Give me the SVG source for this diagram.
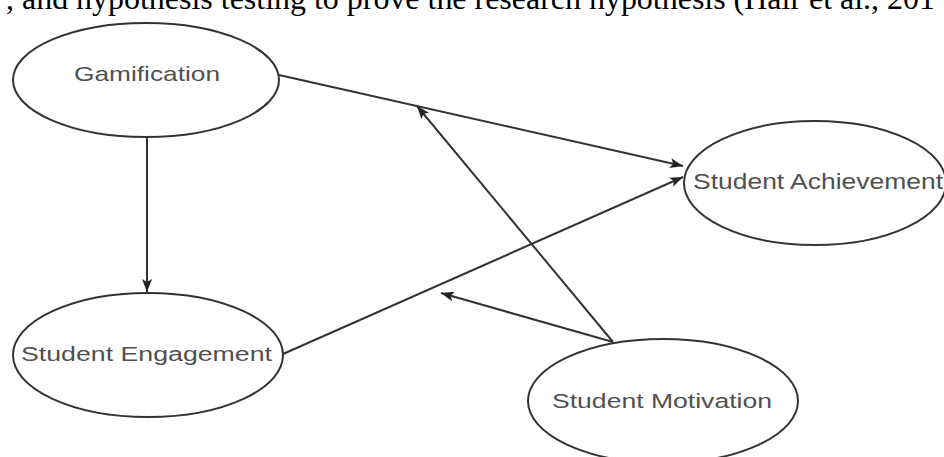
<svg xmlns="http://www.w3.org/2000/svg" width="944" height="457" viewBox="0 0 944 457">
<style>
.node ellipse{fill:#ffffff;stroke:#333333;stroke-width:2}
.node text{font-family:"Liberation Sans",Arial,sans-serif;fill:#505050;font-weight:bold;stroke:none}
.conn line{stroke:#333333;stroke-width:2;fill:none}
.caption{font-family:"Liberation Serif","Times New Roman",serif;font-size:32px;fill:#000000}
</style>
<defs>
<marker id="arrow" markerUnits="userSpaceOnUse" markerWidth="14" markerHeight="10" refX="13" refY="5" orient="auto">
<path d="M0,0 L13,5 L0,10 L3,5 z" fill="#222222"/>
</marker>
</defs>
<rect x="0" y="0" width="944" height="457" fill="#ffffff"/>
<text class="caption" x="6" y="9" textLength="929" lengthAdjust="spacingAndGlyphs">, and hypothesis testing to prove the research hypothesis (Hair et al., 201</text>
<g id="connectors" class="conn">
<line x1="279" y1="75" x2="683" y2="166" marker-end="url(#arrow)"/>
<line x1="147" y1="137" x2="147" y2="292" marker-end="url(#arrow)"/>
<line x1="283" y1="354" x2="683" y2="177" marker-end="url(#arrow)"/>
<line x1="613" y1="342" x2="417" y2="106" marker-end="url(#arrow)"/>
<line x1="613" y1="342" x2="441" y2="293" marker-end="url(#arrow)"/>
</g>
<g id="gamification" class="node">
<ellipse cx="146" cy="80" rx="133" ry="57"/>
<text x="74" y="81" font-size="21" textLength="146" lengthAdjust="spacingAndGlyphs" style="font-weight:normal">Gamification</text>
</g>
<g id="student-achievement" class="node">
<ellipse cx="815" cy="183" rx="131" ry="62"/>
<text x="693" y="189" font-size="22" textLength="250" lengthAdjust="spacingAndGlyphs" style="font-weight:normal">Student Achievement</text>
</g>
<g id="student-engagement" class="node">
<ellipse cx="148" cy="355" rx="135" ry="62"/>
<text x="21" y="361" font-size="20" textLength="251" lengthAdjust="spacingAndGlyphs" style="font-weight:normal">Student Engagement</text>
</g>
<g id="student-motivation" class="node">
<ellipse cx="663" cy="401" rx="135" ry="62"/>
<text x="552" y="408" font-size="20" textLength="220" lengthAdjust="spacingAndGlyphs" style="font-weight:normal">Student Motivation</text>
</g>
</svg>
